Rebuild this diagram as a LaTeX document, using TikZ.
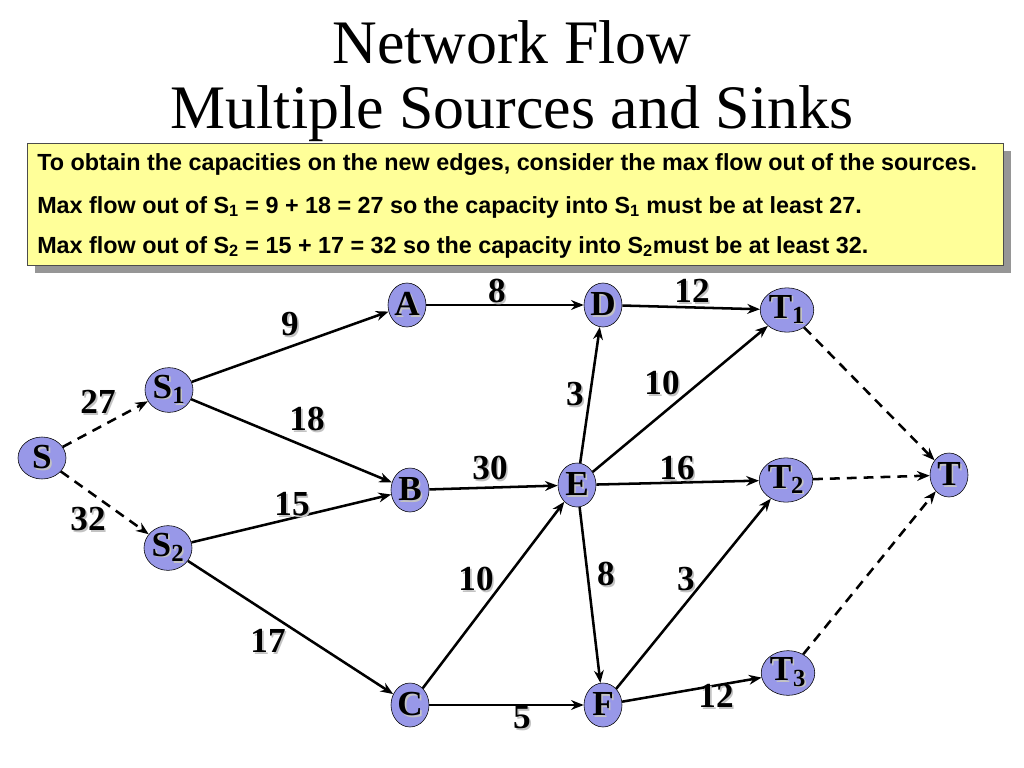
\documentclass[tikz,border=0pt]{standalone}
\usepackage{fontspec}
\setmainfont{Liberation Serif}
\newfontfamily\boxfont{Liberation Sans}
\usepackage{tikz}
\usetikzlibrary{arrows.meta,positioning,shapes.geometric}

\definecolor{nodeblue}{RGB}{152,152,232}
\definecolor{noteyellow}{RGB}{255,255,153}
\definecolor{boxshade}{RGB}{150,150,150}
\definecolor{textshade}{RGB}{195,195,195}

% text with a soft grey drop shadow
\newcommand{\shd}[1]{\makebox[0pt][l]{\kern1.2pt\raisebox{-1.2pt}{\color{textshade}#1}}#1}

\begin{document}
\begin{tikzpicture}[x=0.025cm,y=-0.025cm,
  vert/.style={draw,shape=ellipse,fill=nodeblue,minimum width=38*0.025cm,minimum height=44*0.025cm,
    inner sep=0.5pt,font=\fontsize{25}{25}\selectfont\bfseries},
  wt/.style={font=\fontsize{25}{25}\selectfont\bfseries,inner sep=0pt},
  note/.style={anchor=base west,inner sep=0pt,font=\boxfont\bfseries\fontsize{16.6}{16.6}\selectfont},
  flow/.style={line width=1.8pt,-{Stealth[length=9pt,width=7pt]}},
  extra/.style={flow,dash pattern=on 7pt off 5pt}]
\useasboundingbox (0,0) rectangle (1024,768);

% title
\node (title1) at (512,42) {\fontsize{44}{44}\selectfont Network Flow};
\node (title2) at (512,114) {\fontsize{44}{44}\selectfont Multiple Sources and Sinks};

% note box
\fill[boxshade] (35,151) rectangle (1011,273);
\draw[fill=noteyellow,draw=black!70] (27,143) rectangle (1003,265);
\node[note] (note1) at (37,171)
  {To obtain the capacities on the new edges, consider the max flow out of the sources.};
\node[note] (note2) at (37,213)
  {Max flow out of S\textsubscript{1} = 9 + 18 = 27 so the capacity into S\textsubscript{1} must be at least 27.};
\node[note] (note3) at (37,253)
  {Max flow out of S\textsubscript{2} = 15 + 17 = 32 so the capacity into S\textsubscript{2}must be at least 32.};

% vertices
\node[vert,minimum width=48*0.025cm,minimum height=42*0.025cm] (S) at (42,458) {\shd{S}};
\node[vert] (S1) at (169,390) {\shd{S\textsubscript{1}}};
\node[vert] (S2) at (168,548) {\shd{S\textsubscript{2}}};
\node[vert] (A) at (407,305) {\shd{A}};
\node[vert] (D) at (603,305) {\shd{D}};
\node[vert] (T1) at (787,310) {\shd{T\textsubscript{1}}};
\node[vert] (B) at (410,490) {\shd{B}};
\node[vert] (E) at (577,485) {\shd{E}};
\node[vert] (T2) at (786,480) {\shd{T\textsubscript{2}}};
\node[vert] (T) at (949,475) {\shd{T}};
\node[vert] (C) at (410,705) {\shd{C}};
\node[vert] (F) at (603,705) {\shd{F}};
\node[vert] (T3) at (788,673) {\shd{T\textsubscript{3}}};

% edges
\draw[extra] (S) to (S1);
\draw[extra] (S) to (S2);
\draw[flow] (S1) to (A);
\draw[flow] (S1) to (B);
\draw[flow] (S2) to (B);
\draw[flow] (S2) to (C);
\draw[flow] (A) to (D);
\draw[flow] (D) to (T1);
\draw[flow] (E) to (D);
\draw[flow] (E) to (T1);
\draw[flow] (B) to (E);
\draw[flow] (E) to (T2);
\draw[flow] (C) to (E);
\draw[flow] (E) to (F);
\draw[flow] (C) to (F);
\draw[flow] (F) to (T2);
\draw[flow] (F) to (T3);
\draw[extra] (T1) to (T);
\draw[extra] (T2) to (T);
\draw[extra] (T3) to (T);

% capacities
\node[wt] (cSS1) at (98,403) {\shd{27}};
\node[wt] (cSS2) at (88,520) {\shd{32}};
\node[wt] (cS1A) at (290,325) {\shd{9}};
\node[wt] (cS1B) at (307,420) {\shd{18}};
\node[wt] (cS2B) at (292,505) {\shd{15}};
\node[wt] (cS2C) at (268,642) {\shd{17}};
\node[wt] (cAD) at (497,292) {\shd{8}};
\node[wt] (cDT1) at (692,292) {\shd{12}};
\node[wt] (cED) at (575,395) {\shd{3}};
\node[wt] (cET1) at (662,384) {\shd{10}};
\node[wt] (cBE) at (490,469) {\shd{30}};
\node[wt] (cET2) at (677,469) {\shd{16}};
\node[wt] (cCE) at (476,580) {\shd{10}};
\node[wt] (cEF) at (606,575) {\shd{8}};
\node[wt] (cFT2) at (686,580) {\shd{3}};
\node[wt] (cFT3) at (716,697) {\shd{12}};
\node[wt] (cCF) at (522,718) {\shd{5}};
\end{tikzpicture}
\end{document}
